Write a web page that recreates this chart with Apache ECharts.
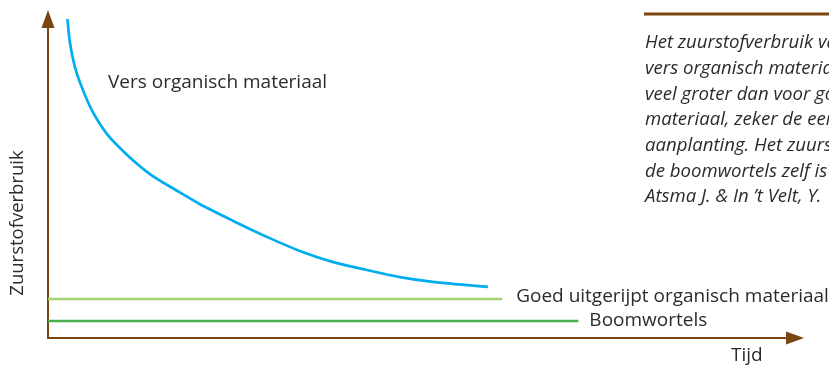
<!DOCTYPE html>
<html>
<head>
<meta charset="utf-8">
<script src="https://cdn.jsdelivr.net/npm/echarts@6/dist/echarts.min.js"></script>
<style>
  html, body { margin: 0; padding: 0; background: #fff; }
  #chart { width: 829px; height: 368px; }
</style>
</head>
<body>
<div id="chart"></div>
<script>
// Schematic: oxygen use over time (values on a 0-100 scale)
const versX = [2.6, 2.95, 3.6, 4.5, 5.85, 7.9, 10.6, 13.65, 17.1, 20.3, 24.8, 29.3, 33.7, 38.2, 42.7, 47.1, 51.5, 58.9];
const versY = [100, 92.4, 85.0, 78.8, 71.5, 63.9, 57.4, 51.4, 46.4, 42.0, 36.7, 31.7, 27.3, 23.8, 21.3, 19.1, 17.6, 16.0];
const goedX = [0, 60.8];
const goedY = [12.2, 12.2];
const wortelX = [0, 71.0];
const wortelY = [5.3, 5.3];

const seriesNames = ['Vers organisch materiaal', 'Goed uitgerijpt organisch materiaal', 'Boomwortels'];
const axisNames = ['Tijd', 'Zuurstofverbruik'];
const noteLines = [
  'Het zuurstofverbruik van',
  'vers organisch materiaal is',
  'veel groter dan voor goed',
  'materiaal, zeker de eerste',
  'aanplanting. Het zuurstof',
  'de boomwortels zelf is',
  'Atsma J. & In \u2019t Velt, Y.'
];

const brown = '#7a4511';
const textColor = '#2b2b2b';
const font = '"Open Sans", "DejaVu Sans", sans-serif';

const zip = (xs, ys) => xs.map((x, i) => [x, ys[i]]);

const axisCommon = {
  type: 'value',
  min: 0,
  max: 100,
  axisLine: {
    show: true,
    symbol: ['none', 'triangle'],
    symbolSize: [13, 18],
    lineStyle: { color: brown, width: 2 }
  },
  axisTick: { show: false },
  axisLabel: { show: false },
  splitLine: { show: false }
};

const chart = echarts.init(document.getElementById('chart'));

const graphics = [
  {
    type: 'text', x: 108, y: 83,
    style: { text: seriesNames[0], fill: textColor, font: '19px ' + font, verticalAlign: 'middle' }
  },
  {
    type: 'text', x: 731, y: 356,
    style: { text: axisNames[0], fill: textColor, font: '19px ' + font, verticalAlign: 'middle' }
  },
  {
    type: 'text', x: 18, y: 223, rotation: Math.PI / 2,
    style: { text: axisNames[1], fill: textColor, font: '18.5px ' + font, align: 'center', verticalAlign: 'middle' }
  },
  {
    type: 'line',
    shape: { x1: 644, y1: 14, x2: 829, y2: 14 },
    style: { stroke: brown, lineWidth: 3 }
  }
];
noteLines.forEach((line, i) => {
  graphics.push({
    type: 'text', x: 645, y: 43 + i * 25.7,
    style: { text: line, fill: textColor, font: 'italic 18.6px ' + font, verticalAlign: 'middle' }
  });
});

chart.setOption({
  animation: false,
  grid: { left: 48, right: 34, top: 19, bottom: 30 },
  xAxis: axisCommon,
  yAxis: axisCommon,
  graphic: graphics,
  series: [
    {
      name: seriesNames[0],
      type: 'line',
      data: zip(versX, versY),
      smooth: 0.3,
      symbol: 'none',
      lineStyle: { color: '#00adef', width: 2.7 }
    },
    {
      name: seriesNames[1],
      type: 'line',
      data: zip(goedX, goedY),
      symbol: 'none',
      lineStyle: { color: '#a5d270', width: 2.5 },
      endLabel: {
        show: true,
        formatter: seriesNames[1],
        distance: 14,
        offset: [0, -2],
        color: textColor,
        fontSize: 19,
        fontFamily: font
      }
    },
    {
      name: seriesNames[2],
      type: 'line',
      data: zip(wortelX, wortelY),
      symbol: 'none',
      lineStyle: { color: '#4cae4f', width: 2.5 },
      endLabel: {
        show: true,
        formatter: seriesNames[2],
        distance: 11,
        color: textColor,
        fontSize: 19,
        fontFamily: font
      }
    }
  ]
});
</script>
</body>
</html>
